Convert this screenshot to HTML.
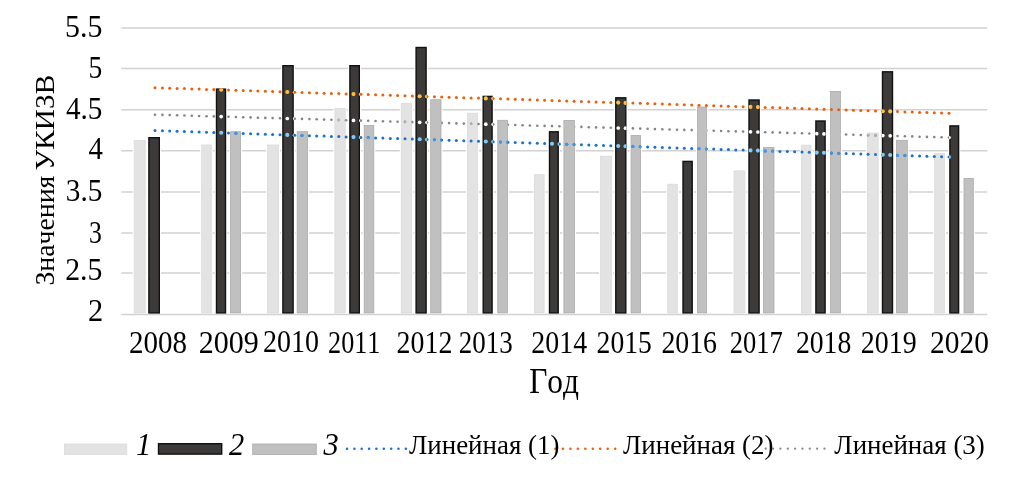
<!DOCTYPE html>
<html><head><meta charset="utf-8"><title>Chart</title>
<style>html,body{margin:0;padding:0;background:#fff}svg{display:block}text{font-family:"Liberation Serif","Times New Roman",serif;fill:#000;font-kerning:none}</style></head>
<body>
<svg width="1030" height="486" viewBox="0 0 1030 486">
<rect width="1030" height="486" fill="#fff"/>
<defs>
<clipPath id="cd">
<rect x="148.2" y="137.0" width="11.8" height="175.9"/>
<rect x="215.8" y="88.4" width="10.4" height="224.5"/>
<rect x="282.2" y="65.0" width="11.6" height="247.9"/>
<rect x="349.2" y="65.0" width="10.8" height="247.9"/>
<rect x="415.4" y="46.8" width="11.4" height="266.1"/>
<rect x="482.5" y="95.7" width="10.3" height="217.2"/>
<rect x="548.8" y="131.1" width="10.1" height="181.8"/>
<rect x="615.1" y="97.1" width="11.4" height="215.8"/>
<rect x="682.3" y="160.7" width="10.6" height="152.2"/>
<rect x="748.3" y="99.3" width="11.5" height="213.6"/>
<rect x="815.2" y="120.3" width="10.6" height="192.6"/>
<rect x="881.8" y="71.1" width="11.4" height="241.8"/>
<rect x="949.2" y="125.2" width="10.1" height="187.7"/>
</clipPath>
<clipPath id="cl">
<rect x="133.8" y="140.0" width="11.8" height="172.9"/>
<rect x="201.3" y="144.6" width="10.4" height="168.3"/>
<rect x="267.2" y="144.6" width="11.6" height="168.3"/>
<rect x="334.5" y="108.0" width="11.1" height="204.9"/>
<rect x="400.9" y="103.1" width="11.2" height="209.8"/>
<rect x="467.0" y="112.8" width="10.9" height="200.1"/>
<rect x="534.1" y="174.3" width="10.4" height="138.6"/>
<rect x="600.2" y="155.8" width="11.6" height="157.1"/>
<rect x="667.3" y="183.8" width="10.4" height="129.1"/>
<rect x="733.6" y="170.5" width="11.7" height="142.4"/>
<rect x="801.1" y="144.8" width="10.3" height="168.1"/>
<rect x="867.2" y="132.6" width="11.4" height="180.3"/>
<rect x="934.3" y="153.2" width="10.6" height="159.7"/>
</clipPath>
<clipPath id="cg">
<rect x="230.2" y="131.3" width="10.8" height="181.6"/>
<rect x="296.8" y="131.3" width="11.2" height="181.6"/>
<rect x="363.8" y="125.1" width="10.4" height="187.8"/>
<rect x="430.3" y="99.3" width="11.1" height="213.6"/>
<rect x="497.4" y="119.9" width="10.4" height="193.0"/>
<rect x="563.5" y="120.0" width="11.3" height="192.9"/>
<rect x="630.7" y="135.0" width="10.3" height="177.9"/>
<rect x="697.0" y="106.6" width="10.0" height="206.3"/>
<rect x="763.2" y="147.0" width="11.2" height="165.9"/>
<rect x="830.2" y="91.0" width="10.6" height="221.9"/>
<rect x="896.2" y="139.9" width="11.5" height="173.0"/>
<rect x="963.6" y="178.0" width="10.1" height="134.9"/>
</clipPath>
</defs>
<line x1="121.3" x2="987.3" y1="28.0" y2="28.0" stroke="#d2d2d2" stroke-width="1.5"/>
<line x1="121.3" x2="987.3" y1="68.5" y2="68.5" stroke="#d2d2d2" stroke-width="1.5"/>
<line x1="121.3" x2="987.3" y1="109.8" y2="109.8" stroke="#d2d2d2" stroke-width="1.5"/>
<line x1="121.3" x2="987.3" y1="150.8" y2="150.8" stroke="#d2d2d2" stroke-width="1.5"/>
<line x1="121.3" x2="987.3" y1="192.0" y2="192.0" stroke="#d2d2d2" stroke-width="1.5"/>
<line x1="121.3" x2="987.3" y1="233.0" y2="233.0" stroke="#d2d2d2" stroke-width="1.5"/>
<line x1="121.3" x2="987.3" y1="272.9" y2="272.9" stroke="#d2d2d2" stroke-width="1.5"/>
<line x1="121.3" x2="987.3" y1="314.5" y2="314.5" stroke="#d2d2d2" stroke-width="1.5"/>
<rect x="132.7" y="139.2" width="14.0" height="173.7" fill="#fff"/>
<rect x="134.2" y="140.4" width="11.0" height="172.5" fill="#e3e3e3" stroke="#dadada" stroke-width="0.8"/>
<rect x="147.1" y="136.2" width="14.0" height="176.7" fill="#fff"/>
<rect x="148.9" y="137.7" width="10.4" height="175.2" fill="#3d3a3a" stroke="#111" stroke-width="1.4"/>
<rect x="200.2" y="143.8" width="12.6" height="169.1" fill="#fff"/>
<rect x="201.7" y="145.0" width="9.6" height="167.9" fill="#e3e3e3" stroke="#dadada" stroke-width="0.8"/>
<rect x="214.7" y="87.6" width="12.6" height="225.3" fill="#fff"/>
<rect x="216.5" y="89.1" width="9.0" height="223.8" fill="#3d3a3a" stroke="#111" stroke-width="1.4"/>
<rect x="229.1" y="130.5" width="13.0" height="182.4" fill="#fff"/>
<rect x="230.6" y="131.7" width="10.0" height="181.2" fill="#c0c0c0" stroke="#ababab" stroke-width="0.8"/>
<rect x="266.1" y="143.8" width="13.8" height="169.1" fill="#fff"/>
<rect x="267.6" y="145.0" width="10.8" height="167.9" fill="#e3e3e3" stroke="#dadada" stroke-width="0.8"/>
<rect x="281.1" y="64.2" width="13.8" height="248.7" fill="#fff"/>
<rect x="282.9" y="65.7" width="10.2" height="247.2" fill="#3d3a3a" stroke="#111" stroke-width="1.4"/>
<rect x="295.7" y="130.5" width="13.4" height="182.4" fill="#fff"/>
<rect x="297.2" y="131.7" width="10.4" height="181.2" fill="#c0c0c0" stroke="#ababab" stroke-width="0.8"/>
<rect x="333.4" y="107.2" width="13.3" height="205.7" fill="#fff"/>
<rect x="334.9" y="108.4" width="10.3" height="204.5" fill="#e3e3e3" stroke="#dadada" stroke-width="0.8"/>
<rect x="348.1" y="64.2" width="13.0" height="248.7" fill="#fff"/>
<rect x="349.9" y="65.7" width="9.4" height="247.2" fill="#3d3a3a" stroke="#111" stroke-width="1.4"/>
<rect x="362.7" y="124.3" width="12.6" height="188.6" fill="#fff"/>
<rect x="364.2" y="125.5" width="9.6" height="187.4" fill="#c0c0c0" stroke="#ababab" stroke-width="0.8"/>
<rect x="399.8" y="102.3" width="13.4" height="210.6" fill="#fff"/>
<rect x="401.3" y="103.5" width="10.4" height="209.4" fill="#e3e3e3" stroke="#dadada" stroke-width="0.8"/>
<rect x="414.3" y="46.0" width="13.6" height="266.9" fill="#fff"/>
<rect x="416.1" y="47.5" width="10.0" height="265.4" fill="#3d3a3a" stroke="#111" stroke-width="1.4"/>
<rect x="429.2" y="98.5" width="13.3" height="214.4" fill="#fff"/>
<rect x="430.7" y="99.7" width="10.3" height="213.2" fill="#c0c0c0" stroke="#ababab" stroke-width="0.8"/>
<rect x="465.9" y="112.0" width="13.1" height="200.9" fill="#fff"/>
<rect x="467.4" y="113.2" width="10.1" height="199.7" fill="#e3e3e3" stroke="#dadada" stroke-width="0.8"/>
<rect x="481.4" y="94.9" width="12.5" height="218.0" fill="#fff"/>
<rect x="483.2" y="96.4" width="8.9" height="216.5" fill="#3d3a3a" stroke="#111" stroke-width="1.4"/>
<rect x="496.3" y="119.1" width="12.6" height="193.8" fill="#fff"/>
<rect x="497.8" y="120.3" width="9.6" height="192.6" fill="#c0c0c0" stroke="#ababab" stroke-width="0.8"/>
<rect x="533.0" y="173.5" width="12.6" height="139.4" fill="#fff"/>
<rect x="534.5" y="174.7" width="9.6" height="138.2" fill="#e3e3e3" stroke="#dadada" stroke-width="0.8"/>
<rect x="547.7" y="130.3" width="12.3" height="182.6" fill="#fff"/>
<rect x="549.5" y="131.8" width="8.7" height="181.1" fill="#3d3a3a" stroke="#111" stroke-width="1.4"/>
<rect x="562.4" y="119.2" width="13.5" height="193.7" fill="#fff"/>
<rect x="563.9" y="120.4" width="10.5" height="192.5" fill="#c0c0c0" stroke="#ababab" stroke-width="0.8"/>
<rect x="599.1" y="155.0" width="13.8" height="157.9" fill="#fff"/>
<rect x="600.6" y="156.2" width="10.8" height="156.7" fill="#e3e3e3" stroke="#dadada" stroke-width="0.8"/>
<rect x="614.0" y="96.3" width="13.6" height="216.6" fill="#fff"/>
<rect x="615.8" y="97.8" width="10.0" height="215.1" fill="#3d3a3a" stroke="#111" stroke-width="1.4"/>
<rect x="629.6" y="134.2" width="12.5" height="178.7" fill="#fff"/>
<rect x="631.1" y="135.4" width="9.5" height="177.5" fill="#c0c0c0" stroke="#ababab" stroke-width="0.8"/>
<rect x="666.2" y="183.0" width="12.6" height="129.9" fill="#fff"/>
<rect x="667.7" y="184.2" width="9.6" height="128.7" fill="#e3e3e3" stroke="#dadada" stroke-width="0.8"/>
<rect x="681.2" y="159.9" width="12.8" height="153.0" fill="#fff"/>
<rect x="683.0" y="161.4" width="9.2" height="151.5" fill="#3d3a3a" stroke="#111" stroke-width="1.4"/>
<rect x="695.9" y="105.8" width="12.2" height="207.1" fill="#fff"/>
<rect x="697.4" y="107.0" width="9.2" height="205.9" fill="#c0c0c0" stroke="#ababab" stroke-width="0.8"/>
<rect x="732.5" y="169.7" width="13.9" height="143.2" fill="#fff"/>
<rect x="734.0" y="170.9" width="10.9" height="142.0" fill="#e3e3e3" stroke="#dadada" stroke-width="0.8"/>
<rect x="747.2" y="98.5" width="13.7" height="214.4" fill="#fff"/>
<rect x="749.0" y="100.0" width="10.1" height="212.9" fill="#3d3a3a" stroke="#111" stroke-width="1.4"/>
<rect x="762.1" y="146.2" width="13.4" height="166.7" fill="#fff"/>
<rect x="763.6" y="147.4" width="10.4" height="165.5" fill="#c0c0c0" stroke="#ababab" stroke-width="0.8"/>
<rect x="800.0" y="144.0" width="12.5" height="168.9" fill="#fff"/>
<rect x="801.5" y="145.2" width="9.5" height="167.7" fill="#e3e3e3" stroke="#dadada" stroke-width="0.8"/>
<rect x="814.1" y="119.5" width="12.8" height="193.4" fill="#fff"/>
<rect x="815.9" y="121.0" width="9.2" height="191.9" fill="#3d3a3a" stroke="#111" stroke-width="1.4"/>
<rect x="829.1" y="90.2" width="12.8" height="222.7" fill="#fff"/>
<rect x="830.6" y="91.4" width="9.8" height="221.5" fill="#c0c0c0" stroke="#ababab" stroke-width="0.8"/>
<rect x="866.1" y="131.8" width="13.6" height="181.1" fill="#fff"/>
<rect x="867.6" y="133.0" width="10.6" height="179.9" fill="#e3e3e3" stroke="#dadada" stroke-width="0.8"/>
<rect x="880.7" y="70.3" width="13.6" height="242.6" fill="#fff"/>
<rect x="882.5" y="71.8" width="10.0" height="241.1" fill="#3d3a3a" stroke="#111" stroke-width="1.4"/>
<rect x="895.1" y="139.1" width="13.7" height="173.8" fill="#fff"/>
<rect x="896.6" y="140.3" width="10.7" height="172.6" fill="#c0c0c0" stroke="#ababab" stroke-width="0.8"/>
<rect x="933.2" y="152.4" width="12.8" height="160.5" fill="#fff"/>
<rect x="934.7" y="153.6" width="9.8" height="159.3" fill="#e3e3e3" stroke="#dadada" stroke-width="0.8"/>
<rect x="948.1" y="124.4" width="12.3" height="188.5" fill="#fff"/>
<rect x="949.9" y="125.9" width="8.7" height="187.0" fill="#3d3a3a" stroke="#111" stroke-width="1.4"/>
<rect x="962.5" y="177.2" width="12.3" height="135.7" fill="#fff"/>
<rect x="964.0" y="178.4" width="9.3" height="134.5" fill="#c0c0c0" stroke="#ababab" stroke-width="0.8"/>
<g fill="#ea5f0a"><circle cx="155.0" cy="87.7" r="1.5"/><circle cx="162.4" cy="87.9" r="1.5"/><circle cx="169.7" cy="88.2" r="1.5"/><circle cx="177.1" cy="88.4" r="1.5"/><circle cx="184.4" cy="88.6" r="1.5"/><circle cx="191.8" cy="88.9" r="1.5"/><circle cx="199.1" cy="89.1" r="1.5"/><circle cx="206.5" cy="89.4" r="1.5"/><circle cx="213.8" cy="89.6" r="1.5"/><circle cx="221.2" cy="89.8" r="1.5"/><circle cx="228.5" cy="90.1" r="1.5"/><circle cx="235.9" cy="90.3" r="1.5"/><circle cx="243.2" cy="90.5" r="1.5"/><circle cx="250.6" cy="90.8" r="1.5"/><circle cx="257.9" cy="91.0" r="1.5"/><circle cx="265.3" cy="91.3" r="1.5"/><circle cx="272.6" cy="91.5" r="1.5"/><circle cx="280.0" cy="91.7" r="1.5"/><circle cx="287.3" cy="92.0" r="1.5"/><circle cx="294.7" cy="92.2" r="1.5"/><circle cx="302.0" cy="92.4" r="1.5"/><circle cx="309.4" cy="92.7" r="1.5"/><circle cx="316.7" cy="92.9" r="1.5"/><circle cx="324.1" cy="93.2" r="1.5"/><circle cx="331.4" cy="93.4" r="1.5"/><circle cx="338.8" cy="93.6" r="1.5"/><circle cx="346.1" cy="93.9" r="1.5"/><circle cx="353.5" cy="94.1" r="1.5"/><circle cx="360.9" cy="94.3" r="1.5"/><circle cx="368.2" cy="94.6" r="1.5"/><circle cx="375.6" cy="94.8" r="1.5"/><circle cx="382.9" cy="95.0" r="1.5"/><circle cx="390.3" cy="95.3" r="1.5"/><circle cx="397.6" cy="95.5" r="1.5"/><circle cx="405.0" cy="95.8" r="1.5"/><circle cx="412.3" cy="96.0" r="1.5"/><circle cx="419.7" cy="96.2" r="1.5"/><circle cx="427.0" cy="96.5" r="1.5"/><circle cx="434.4" cy="96.7" r="1.5"/><circle cx="441.7" cy="96.9" r="1.5"/><circle cx="449.1" cy="97.2" r="1.5"/><circle cx="456.4" cy="97.4" r="1.5"/><circle cx="463.8" cy="97.7" r="1.5"/><circle cx="471.1" cy="97.9" r="1.5"/><circle cx="478.5" cy="98.1" r="1.5"/><circle cx="485.8" cy="98.4" r="1.5"/><circle cx="493.2" cy="98.6" r="1.5"/><circle cx="500.5" cy="98.8" r="1.5"/><circle cx="507.9" cy="99.1" r="1.5"/><circle cx="515.2" cy="99.3" r="1.5"/><circle cx="522.6" cy="99.6" r="1.5"/><circle cx="529.9" cy="99.8" r="1.5"/><circle cx="537.3" cy="100.0" r="1.5"/><circle cx="544.6" cy="100.3" r="1.5"/><circle cx="552.0" cy="100.5" r="1.5"/><circle cx="559.4" cy="100.7" r="1.5"/><circle cx="566.7" cy="101.0" r="1.5"/><circle cx="574.1" cy="101.2" r="1.5"/><circle cx="581.4" cy="101.4" r="1.5"/><circle cx="588.8" cy="101.7" r="1.5"/><circle cx="596.1" cy="101.9" r="1.5"/><circle cx="603.5" cy="102.2" r="1.5"/><circle cx="610.8" cy="102.4" r="1.5"/><circle cx="618.2" cy="102.6" r="1.5"/><circle cx="625.5" cy="102.9" r="1.5"/><circle cx="632.9" cy="103.1" r="1.5"/><circle cx="640.2" cy="103.3" r="1.5"/><circle cx="647.6" cy="103.6" r="1.5"/><circle cx="654.9" cy="103.8" r="1.5"/><circle cx="662.3" cy="104.1" r="1.5"/><circle cx="669.6" cy="104.3" r="1.5"/><circle cx="677.0" cy="104.5" r="1.5"/><circle cx="684.3" cy="104.8" r="1.5"/><circle cx="691.7" cy="105.0" r="1.5"/><circle cx="699.0" cy="105.2" r="1.5"/><circle cx="706.4" cy="105.5" r="1.5"/><circle cx="713.7" cy="105.7" r="1.5"/><circle cx="721.1" cy="106.0" r="1.5"/><circle cx="728.4" cy="106.2" r="1.5"/><circle cx="735.8" cy="106.4" r="1.5"/><circle cx="743.1" cy="106.7" r="1.5"/><circle cx="750.5" cy="106.9" r="1.5"/><circle cx="757.9" cy="107.1" r="1.5"/><circle cx="765.2" cy="107.4" r="1.5"/><circle cx="772.6" cy="107.6" r="1.5"/><circle cx="779.9" cy="107.8" r="1.5"/><circle cx="787.3" cy="108.1" r="1.5"/><circle cx="794.6" cy="108.3" r="1.5"/><circle cx="802.0" cy="108.6" r="1.5"/><circle cx="809.3" cy="108.8" r="1.5"/><circle cx="816.7" cy="109.0" r="1.5"/><circle cx="824.0" cy="109.3" r="1.5"/><circle cx="831.4" cy="109.5" r="1.5"/><circle cx="838.7" cy="109.7" r="1.5"/><circle cx="846.1" cy="110.0" r="1.5"/><circle cx="853.4" cy="110.2" r="1.5"/><circle cx="860.8" cy="110.5" r="1.5"/><circle cx="868.1" cy="110.7" r="1.5"/><circle cx="875.5" cy="110.9" r="1.5"/><circle cx="882.8" cy="111.2" r="1.5"/><circle cx="890.2" cy="111.4" r="1.5"/><circle cx="897.5" cy="111.6" r="1.5"/><circle cx="904.9" cy="111.9" r="1.5"/><circle cx="912.2" cy="112.1" r="1.5"/><circle cx="919.6" cy="112.4" r="1.5"/><circle cx="926.9" cy="112.6" r="1.5"/><circle cx="934.3" cy="112.8" r="1.5"/><circle cx="941.6" cy="113.1" r="1.5"/><circle cx="949.0" cy="113.3" r="1.5"/></g>
<g fill="#ffbe3c" clip-path="url(#cd)"><circle cx="213.8" cy="89.6" r="2.05"/><circle cx="221.2" cy="89.8" r="2.05"/><circle cx="228.5" cy="90.1" r="2.05"/><circle cx="280.0" cy="91.7" r="2.05"/><circle cx="287.3" cy="92.0" r="2.05"/><circle cx="294.7" cy="92.2" r="2.05"/><circle cx="353.5" cy="94.1" r="2.05"/><circle cx="360.9" cy="94.3" r="2.05"/><circle cx="419.7" cy="96.2" r="2.05"/><circle cx="427.0" cy="96.5" r="2.05"/><circle cx="485.8" cy="98.4" r="2.05"/><circle cx="493.2" cy="98.6" r="2.05"/><circle cx="618.2" cy="102.6" r="2.05"/><circle cx="625.5" cy="102.9" r="2.05"/><circle cx="750.5" cy="106.9" r="2.05"/><circle cx="757.9" cy="107.1" r="2.05"/><circle cx="882.8" cy="111.2" r="2.05"/><circle cx="890.2" cy="111.4" r="2.05"/></g>
<g fill="#848484"><circle cx="155.0" cy="114.7" r="1.3"/><circle cx="162.4" cy="114.9" r="1.3"/><circle cx="169.7" cy="115.1" r="1.3"/><circle cx="177.1" cy="115.3" r="1.3"/><circle cx="184.4" cy="115.5" r="1.3"/><circle cx="191.8" cy="115.8" r="1.3"/><circle cx="199.1" cy="116.0" r="1.3"/><circle cx="206.5" cy="116.2" r="1.3"/><circle cx="213.8" cy="116.4" r="1.3"/><circle cx="221.2" cy="116.6" r="1.3"/><circle cx="228.5" cy="116.8" r="1.3"/><circle cx="235.9" cy="117.0" r="1.3"/><circle cx="243.2" cy="117.2" r="1.3"/><circle cx="250.6" cy="117.4" r="1.3"/><circle cx="257.9" cy="117.7" r="1.3"/><circle cx="265.3" cy="117.9" r="1.3"/><circle cx="272.6" cy="118.1" r="1.3"/><circle cx="280.0" cy="118.3" r="1.3"/><circle cx="287.3" cy="118.5" r="1.3"/><circle cx="294.7" cy="118.7" r="1.3"/><circle cx="302.0" cy="118.9" r="1.3"/><circle cx="309.4" cy="119.1" r="1.3"/><circle cx="316.7" cy="119.3" r="1.3"/><circle cx="324.1" cy="119.6" r="1.3"/><circle cx="331.4" cy="119.8" r="1.3"/><circle cx="338.8" cy="120.0" r="1.3"/><circle cx="346.1" cy="120.2" r="1.3"/><circle cx="353.5" cy="120.4" r="1.3"/><circle cx="360.9" cy="120.6" r="1.3"/><circle cx="368.2" cy="120.8" r="1.3"/><circle cx="375.6" cy="121.0" r="1.3"/><circle cx="382.9" cy="121.2" r="1.3"/><circle cx="390.3" cy="121.5" r="1.3"/><circle cx="397.6" cy="121.7" r="1.3"/><circle cx="405.0" cy="121.9" r="1.3"/><circle cx="412.3" cy="122.1" r="1.3"/><circle cx="419.7" cy="122.3" r="1.3"/><circle cx="427.0" cy="122.5" r="1.3"/><circle cx="434.4" cy="122.7" r="1.3"/><circle cx="441.7" cy="122.9" r="1.3"/><circle cx="449.1" cy="123.1" r="1.3"/><circle cx="456.4" cy="123.4" r="1.3"/><circle cx="463.8" cy="123.6" r="1.3"/><circle cx="471.1" cy="123.8" r="1.3"/><circle cx="478.5" cy="124.0" r="1.3"/><circle cx="485.8" cy="124.2" r="1.3"/><circle cx="493.2" cy="124.4" r="1.3"/><circle cx="500.5" cy="124.6" r="1.3"/><circle cx="507.9" cy="124.8" r="1.3"/><circle cx="515.2" cy="125.0" r="1.3"/><circle cx="522.6" cy="125.3" r="1.3"/><circle cx="529.9" cy="125.5" r="1.3"/><circle cx="537.3" cy="125.7" r="1.3"/><circle cx="544.6" cy="125.9" r="1.3"/><circle cx="552.0" cy="126.1" r="1.3"/><circle cx="559.4" cy="126.3" r="1.3"/><circle cx="566.7" cy="126.5" r="1.3"/><circle cx="574.1" cy="126.7" r="1.3"/><circle cx="581.4" cy="126.9" r="1.3"/><circle cx="588.8" cy="127.2" r="1.3"/><circle cx="596.1" cy="127.4" r="1.3"/><circle cx="603.5" cy="127.6" r="1.3"/><circle cx="610.8" cy="127.8" r="1.3"/><circle cx="618.2" cy="128.0" r="1.3"/><circle cx="625.5" cy="128.2" r="1.3"/><circle cx="632.9" cy="128.4" r="1.3"/><circle cx="640.2" cy="128.6" r="1.3"/><circle cx="647.6" cy="128.8" r="1.3"/><circle cx="654.9" cy="129.1" r="1.3"/><circle cx="662.3" cy="129.3" r="1.3"/><circle cx="669.6" cy="129.5" r="1.3"/><circle cx="677.0" cy="129.7" r="1.3"/><circle cx="684.3" cy="129.9" r="1.3"/><circle cx="691.7" cy="130.1" r="1.3"/><circle cx="699.0" cy="130.3" r="1.3"/><circle cx="706.4" cy="130.5" r="1.3"/><circle cx="713.7" cy="130.7" r="1.3"/><circle cx="721.1" cy="131.0" r="1.3"/><circle cx="728.4" cy="131.2" r="1.3"/><circle cx="735.8" cy="131.4" r="1.3"/><circle cx="743.1" cy="131.6" r="1.3"/><circle cx="750.5" cy="131.8" r="1.3"/><circle cx="757.9" cy="132.0" r="1.3"/><circle cx="765.2" cy="132.2" r="1.3"/><circle cx="772.6" cy="132.4" r="1.3"/><circle cx="779.9" cy="132.6" r="1.3"/><circle cx="787.3" cy="132.9" r="1.3"/><circle cx="794.6" cy="133.1" r="1.3"/><circle cx="802.0" cy="133.3" r="1.3"/><circle cx="809.3" cy="133.5" r="1.3"/><circle cx="816.7" cy="133.7" r="1.3"/><circle cx="824.0" cy="133.9" r="1.3"/><circle cx="831.4" cy="134.1" r="1.3"/><circle cx="838.7" cy="134.3" r="1.3"/><circle cx="846.1" cy="134.5" r="1.3"/><circle cx="853.4" cy="134.8" r="1.3"/><circle cx="860.8" cy="135.0" r="1.3"/><circle cx="868.1" cy="135.2" r="1.3"/><circle cx="875.5" cy="135.4" r="1.3"/><circle cx="882.8" cy="135.6" r="1.3"/><circle cx="890.2" cy="135.8" r="1.3"/><circle cx="897.5" cy="136.0" r="1.3"/><circle cx="904.9" cy="136.2" r="1.3"/><circle cx="912.2" cy="136.4" r="1.3"/><circle cx="919.6" cy="136.7" r="1.3"/><circle cx="926.9" cy="136.9" r="1.3"/><circle cx="934.3" cy="137.1" r="1.3"/><circle cx="941.6" cy="137.3" r="1.3"/><circle cx="949.0" cy="137.5" r="1.3"/></g>
<g fill="#b2b2b2" clip-path="url(#cl)"><circle cx="338.8" cy="120.0" r="1.35"/><circle cx="346.1" cy="120.2" r="1.35"/><circle cx="405.0" cy="121.9" r="1.35"/><circle cx="412.3" cy="122.1" r="1.35"/><circle cx="471.1" cy="123.8" r="1.35"/><circle cx="478.5" cy="124.0" r="1.35"/><circle cx="868.1" cy="135.2" r="1.35"/><circle cx="875.5" cy="135.4" r="1.35"/></g>
<g fill="#bfbfbf" clip-path="url(#cg)"><circle cx="434.4" cy="122.7" r="2.20"/><circle cx="441.7" cy="122.9" r="2.20"/><circle cx="500.5" cy="124.6" r="2.20"/><circle cx="507.9" cy="124.8" r="2.20"/><circle cx="566.7" cy="126.5" r="2.20"/><circle cx="574.1" cy="126.7" r="2.20"/><circle cx="699.0" cy="130.3" r="2.20"/><circle cx="706.4" cy="130.5" r="2.20"/><circle cx="831.4" cy="134.1" r="2.20"/><circle cx="838.7" cy="134.3" r="2.20"/></g>
<g fill="#ffffff" clip-path="url(#cd)"><circle cx="213.8" cy="116.4" r="1.85"/><circle cx="221.2" cy="116.6" r="1.85"/><circle cx="228.5" cy="116.8" r="1.85"/><circle cx="280.0" cy="118.3" r="1.85"/><circle cx="287.3" cy="118.5" r="1.85"/><circle cx="294.7" cy="118.7" r="1.85"/><circle cx="353.5" cy="120.4" r="1.85"/><circle cx="360.9" cy="120.6" r="1.85"/><circle cx="419.7" cy="122.3" r="1.85"/><circle cx="427.0" cy="122.5" r="1.85"/><circle cx="485.8" cy="124.2" r="1.85"/><circle cx="493.2" cy="124.4" r="1.85"/><circle cx="618.2" cy="128.0" r="1.85"/><circle cx="625.5" cy="128.2" r="1.85"/><circle cx="750.5" cy="131.8" r="1.85"/><circle cx="757.9" cy="132.0" r="1.85"/><circle cx="816.7" cy="133.7" r="1.85"/><circle cx="824.0" cy="133.9" r="1.85"/><circle cx="882.8" cy="135.6" r="1.85"/><circle cx="890.2" cy="135.8" r="1.85"/><circle cx="949.0" cy="137.5" r="1.85"/></g>
<g fill="#1a70cc"><circle cx="155.0" cy="130.5" r="1.5"/><circle cx="162.4" cy="130.7" r="1.5"/><circle cx="169.7" cy="131.0" r="1.5"/><circle cx="177.1" cy="131.2" r="1.5"/><circle cx="184.4" cy="131.5" r="1.5"/><circle cx="191.8" cy="131.7" r="1.5"/><circle cx="199.1" cy="132.0" r="1.5"/><circle cx="206.5" cy="132.2" r="1.5"/><circle cx="213.8" cy="132.5" r="1.5"/><circle cx="221.2" cy="132.7" r="1.5"/><circle cx="228.5" cy="133.0" r="1.5"/><circle cx="235.9" cy="133.2" r="1.5"/><circle cx="243.2" cy="133.4" r="1.5"/><circle cx="250.6" cy="133.7" r="1.5"/><circle cx="257.9" cy="133.9" r="1.5"/><circle cx="265.3" cy="134.2" r="1.5"/><circle cx="272.6" cy="134.4" r="1.5"/><circle cx="280.0" cy="134.7" r="1.5"/><circle cx="287.3" cy="134.9" r="1.5"/><circle cx="294.7" cy="135.2" r="1.5"/><circle cx="302.0" cy="135.4" r="1.5"/><circle cx="309.4" cy="135.7" r="1.5"/><circle cx="316.7" cy="135.9" r="1.5"/><circle cx="324.1" cy="136.1" r="1.5"/><circle cx="331.4" cy="136.4" r="1.5"/><circle cx="338.8" cy="136.6" r="1.5"/><circle cx="346.1" cy="136.9" r="1.5"/><circle cx="353.5" cy="137.1" r="1.5"/><circle cx="360.9" cy="137.4" r="1.5"/><circle cx="368.2" cy="137.6" r="1.5"/><circle cx="375.6" cy="137.9" r="1.5"/><circle cx="382.9" cy="138.1" r="1.5"/><circle cx="390.3" cy="138.4" r="1.5"/><circle cx="397.6" cy="138.6" r="1.5"/><circle cx="405.0" cy="138.8" r="1.5"/><circle cx="412.3" cy="139.1" r="1.5"/><circle cx="419.7" cy="139.3" r="1.5"/><circle cx="427.0" cy="139.6" r="1.5"/><circle cx="434.4" cy="139.8" r="1.5"/><circle cx="441.7" cy="140.1" r="1.5"/><circle cx="449.1" cy="140.3" r="1.5"/><circle cx="456.4" cy="140.6" r="1.5"/><circle cx="463.8" cy="140.8" r="1.5"/><circle cx="471.1" cy="141.1" r="1.5"/><circle cx="478.5" cy="141.3" r="1.5"/><circle cx="485.8" cy="141.5" r="1.5"/><circle cx="493.2" cy="141.8" r="1.5"/><circle cx="500.5" cy="142.0" r="1.5"/><circle cx="507.9" cy="142.3" r="1.5"/><circle cx="515.2" cy="142.5" r="1.5"/><circle cx="522.6" cy="142.8" r="1.5"/><circle cx="529.9" cy="143.0" r="1.5"/><circle cx="537.3" cy="143.3" r="1.5"/><circle cx="544.6" cy="143.5" r="1.5"/><circle cx="552.0" cy="143.8" r="1.5"/><circle cx="559.4" cy="144.0" r="1.5"/><circle cx="566.7" cy="144.2" r="1.5"/><circle cx="574.1" cy="144.5" r="1.5"/><circle cx="581.4" cy="144.7" r="1.5"/><circle cx="588.8" cy="145.0" r="1.5"/><circle cx="596.1" cy="145.2" r="1.5"/><circle cx="603.5" cy="145.5" r="1.5"/><circle cx="610.8" cy="145.7" r="1.5"/><circle cx="618.2" cy="146.0" r="1.5"/><circle cx="625.5" cy="146.2" r="1.5"/><circle cx="632.9" cy="146.4" r="1.5"/><circle cx="640.2" cy="146.7" r="1.5"/><circle cx="647.6" cy="146.9" r="1.5"/><circle cx="654.9" cy="147.2" r="1.5"/><circle cx="662.3" cy="147.4" r="1.5"/><circle cx="669.6" cy="147.7" r="1.5"/><circle cx="677.0" cy="147.9" r="1.5"/><circle cx="684.3" cy="148.2" r="1.5"/><circle cx="691.7" cy="148.4" r="1.5"/><circle cx="699.0" cy="148.7" r="1.5"/><circle cx="706.4" cy="148.9" r="1.5"/><circle cx="713.7" cy="149.1" r="1.5"/><circle cx="721.1" cy="149.4" r="1.5"/><circle cx="728.4" cy="149.6" r="1.5"/><circle cx="735.8" cy="149.9" r="1.5"/><circle cx="743.1" cy="150.1" r="1.5"/><circle cx="750.5" cy="150.4" r="1.5"/><circle cx="757.9" cy="150.6" r="1.5"/><circle cx="765.2" cy="150.9" r="1.5"/><circle cx="772.6" cy="151.1" r="1.5"/><circle cx="779.9" cy="151.4" r="1.5"/><circle cx="787.3" cy="151.6" r="1.5"/><circle cx="794.6" cy="151.8" r="1.5"/><circle cx="802.0" cy="152.1" r="1.5"/><circle cx="809.3" cy="152.3" r="1.5"/><circle cx="816.7" cy="152.6" r="1.5"/><circle cx="824.0" cy="152.8" r="1.5"/><circle cx="831.4" cy="153.1" r="1.5"/><circle cx="838.7" cy="153.3" r="1.5"/><circle cx="846.1" cy="153.6" r="1.5"/><circle cx="853.4" cy="153.8" r="1.5"/><circle cx="860.8" cy="154.1" r="1.5"/><circle cx="868.1" cy="154.3" r="1.5"/><circle cx="875.5" cy="154.5" r="1.5"/><circle cx="882.8" cy="154.8" r="1.5"/><circle cx="890.2" cy="155.0" r="1.5"/><circle cx="897.5" cy="155.3" r="1.5"/><circle cx="904.9" cy="155.5" r="1.5"/><circle cx="912.2" cy="155.8" r="1.5"/><circle cx="919.6" cy="156.0" r="1.5"/><circle cx="926.9" cy="156.3" r="1.5"/><circle cx="934.3" cy="156.5" r="1.5"/><circle cx="941.6" cy="156.8" r="1.5"/><circle cx="949.0" cy="157.0" r="1.5"/></g>
<g fill="#3f97e6" clip-path="url(#cg)"><circle cx="228.5" cy="133.0" r="1.55"/><circle cx="235.9" cy="133.2" r="1.55"/><circle cx="243.2" cy="133.4" r="1.55"/><circle cx="294.7" cy="135.2" r="1.55"/><circle cx="302.0" cy="135.4" r="1.55"/><circle cx="309.4" cy="135.7" r="1.55"/><circle cx="360.9" cy="137.4" r="1.55"/><circle cx="368.2" cy="137.6" r="1.55"/><circle cx="375.6" cy="137.9" r="1.55"/><circle cx="434.4" cy="139.8" r="1.55"/><circle cx="441.7" cy="140.1" r="1.55"/><circle cx="500.5" cy="142.0" r="1.55"/><circle cx="507.9" cy="142.3" r="1.55"/><circle cx="566.7" cy="144.2" r="1.55"/><circle cx="574.1" cy="144.5" r="1.55"/><circle cx="632.9" cy="146.4" r="1.55"/><circle cx="640.2" cy="146.7" r="1.55"/><circle cx="699.0" cy="148.7" r="1.55"/><circle cx="706.4" cy="148.9" r="1.55"/><circle cx="765.2" cy="150.9" r="1.55"/><circle cx="772.6" cy="151.1" r="1.55"/><circle cx="831.4" cy="153.1" r="1.55"/><circle cx="838.7" cy="153.3" r="1.55"/><circle cx="897.5" cy="155.3" r="1.55"/><circle cx="904.9" cy="155.5" r="1.55"/></g>
<g fill="#84ccf8" clip-path="url(#cd)"><circle cx="213.8" cy="132.5" r="2.05"/><circle cx="221.2" cy="132.7" r="2.05"/><circle cx="228.5" cy="133.0" r="2.05"/><circle cx="280.0" cy="134.7" r="2.05"/><circle cx="287.3" cy="134.9" r="2.05"/><circle cx="294.7" cy="135.2" r="2.05"/><circle cx="353.5" cy="137.1" r="2.05"/><circle cx="360.9" cy="137.4" r="2.05"/><circle cx="419.7" cy="139.3" r="2.05"/><circle cx="427.0" cy="139.6" r="2.05"/><circle cx="485.8" cy="141.5" r="2.05"/><circle cx="493.2" cy="141.8" r="2.05"/><circle cx="552.0" cy="143.8" r="2.05"/><circle cx="559.4" cy="144.0" r="2.05"/><circle cx="618.2" cy="146.0" r="2.05"/><circle cx="625.5" cy="146.2" r="2.05"/><circle cx="750.5" cy="150.4" r="2.05"/><circle cx="757.9" cy="150.6" r="2.05"/><circle cx="816.7" cy="152.6" r="2.05"/><circle cx="824.0" cy="152.8" r="2.05"/><circle cx="882.8" cy="154.8" r="2.05"/><circle cx="890.2" cy="155.0" r="2.05"/><circle cx="949.0" cy="157.0" r="2.05"/></g>
<text transform="translate(65.06,36.7) scale(1.05,1.085)" font-size="28.5" text-anchor="start">5.5</text>
<text transform="translate(88.6,78.2) scale(0.9668,1.085)" font-size="28.5" text-anchor="start">5</text>
<text transform="translate(65.93,118.9) scale(1.0249,1.085)" font-size="28.5" text-anchor="start">4.5</text>
<text transform="translate(88.44,159.3) scale(1.0115,1.085)" font-size="28.5" text-anchor="start">4</text>
<text transform="translate(65.8,200.9) scale(1.0287,1.085)" font-size="28.5" text-anchor="start">3.5</text>
<text transform="translate(88.97,242.9) scale(0.9004,1.085)" font-size="28.5" text-anchor="start">3</text>
<text transform="translate(65.19,280.1) scale(1.0463,1.085)" font-size="28.5" text-anchor="start">2.5</text>
<text transform="translate(88.06,320.5) scale(1.0678,1.085)" font-size="28.5" text-anchor="start">2</text>
<text transform="translate(129.02,352.7) scale(1.019,1.085)" font-size="28.5" text-anchor="start">2008</text>
<text transform="translate(198.68,352.7) scale(1.0535,1.085)" font-size="28.5" text-anchor="start">2009</text>
<text transform="translate(263.07,352.0) scale(0.9824,1.085)" font-size="28.5" text-anchor="start">2010</text>
<text transform="translate(328.05,352.7) scale(0.9198,1.085)" font-size="28.5" text-anchor="start">2011</text>
<text transform="translate(396.57,352.7) scale(0.9783,1.085)" font-size="28.5" text-anchor="start">2012</text>
<text transform="translate(458.71,352.7) scale(0.9481,1.085)" font-size="28.5" text-anchor="start">2013</text>
<text transform="translate(531.37,352.7) scale(0.9783,1.085)" font-size="28.5" text-anchor="start">2014</text>
<text transform="translate(596.59,352.7) scale(0.9701,1.085)" font-size="28.5" text-anchor="start">2015</text>
<text transform="translate(661.38,352.7) scale(0.9763,1.085)" font-size="28.5" text-anchor="start">2016</text>
<text transform="translate(729.73,352.7) scale(0.9303,1.085)" font-size="28.5" text-anchor="start">2017</text>
<text transform="translate(795.88,352.7) scale(0.9714,1.085)" font-size="28.5" text-anchor="start">2018</text>
<text transform="translate(860.87,352.7) scale(0.9784,1.085)" font-size="28.5" text-anchor="start">2019</text>
<text transform="translate(930.11,352.7) scale(1.0336,1.085)" font-size="28.5" text-anchor="start">2020</text>
<text transform="translate(529.2,392.5) scale(0.9964,1.15)" font-size="31.5" text-anchor="start">Год</text>
<text transform="translate(53.7,285.6) rotate(-90) scale(1.01,1)" font-size="27.5" text-anchor="start">Значения</text>
<text transform="translate(53.7,74.8) rotate(-90) scale(1.066,1)" font-size="27.5" text-anchor="end">УКИЗВ</text>
<rect x="64.4" y="444.0" width="62.4" height="10.6" fill="#e3e3e3" stroke="#dadada" stroke-width="0.8"/>
<rect x="158.5" y="443.7" width="63.2" height="10.4" fill="#3d3a3a" stroke="#111" stroke-width="1.4"/>
<rect x="252.7" y="444.0" width="63.6" height="10.6" fill="#c0c0c0" stroke="#ababab" stroke-width="0.8"/>
<text transform="translate(136,454.5) scale(1.05,1.085)" font-size="29" text-anchor="start" font-style="italic">1</text>
<text transform="translate(229,454.5) scale(1.05,1.085)" font-size="29" text-anchor="start" font-style="italic">2</text>
<text transform="translate(323.5,454.5) scale(1.05,1.085)" font-size="29" text-anchor="start" font-style="italic">3</text>
<g fill="#1a70cc"><circle cx="347.0" cy="448.7" r="1.25"/><circle cx="354.4" cy="448.7" r="1.25"/><circle cx="361.7" cy="448.7" r="1.25"/><circle cx="369.1" cy="448.7" r="1.25"/><circle cx="376.4" cy="448.7" r="1.25"/><circle cx="383.8" cy="448.7" r="1.25"/><circle cx="391.2" cy="448.7" r="1.25"/><circle cx="398.5" cy="448.7" r="1.25"/><circle cx="405.9" cy="448.7" r="1.25"/></g>
<g fill="#ea5f0a"><circle cx="555.4" cy="448.7" r="1.25"/><circle cx="562.9" cy="448.7" r="1.25"/><circle cx="570.4" cy="448.7" r="1.25"/><circle cx="577.8" cy="448.7" r="1.25"/><circle cx="585.3" cy="448.7" r="1.25"/><circle cx="592.8" cy="448.7" r="1.25"/><circle cx="600.2" cy="448.7" r="1.25"/><circle cx="607.7" cy="448.7" r="1.25"/><circle cx="615.2" cy="448.7" r="1.25"/></g>
<g fill="#8a8a8a"><circle cx="765.7" cy="448.7" r="1.15"/><circle cx="773.1" cy="448.7" r="1.15"/><circle cx="780.4" cy="448.7" r="1.15"/><circle cx="787.8" cy="448.7" r="1.15"/><circle cx="795.1" cy="448.7" r="1.15"/><circle cx="802.5" cy="448.7" r="1.15"/><circle cx="809.8" cy="448.7" r="1.15"/><circle cx="817.1" cy="448.7" r="1.15"/><circle cx="824.5" cy="448.7" r="1.15"/></g>
<text transform="translate(409.05,454.0) scale(1.0169,1.0)" font-size="26.5" text-anchor="start">Линейная (1)</text>
<text transform="translate(623.05,454.0) scale(1.0169,1.0)" font-size="26.5" text-anchor="start">Линейная (2)</text>
<text transform="translate(834.35,454.0) scale(1.0176,1.0)" font-size="26.5" text-anchor="start">Линейная (3)</text>
</svg>
</body></html>
